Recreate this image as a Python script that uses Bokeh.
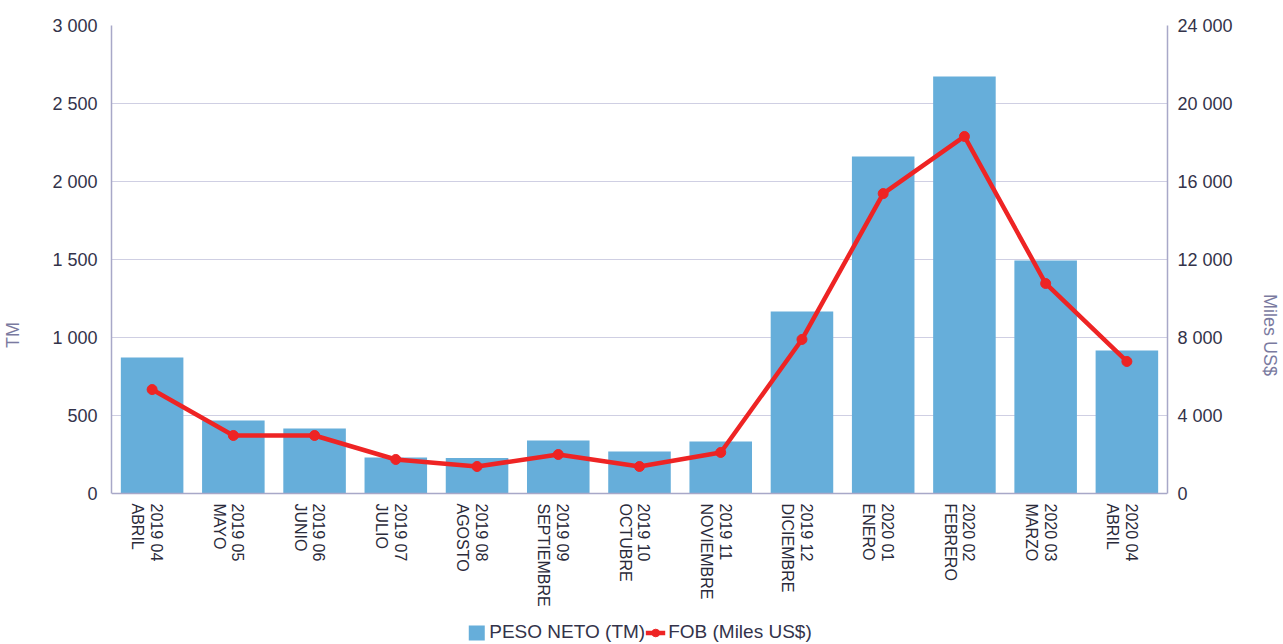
import math
from bokeh.plotting import figure
from bokeh.models import (Range1d, LinearAxis, CustomJSTickFormatter, FixedTicker,
                          Legend, LegendItem, ColumnDataSource, Span)
from bokeh.core.properties import value
from bokeh.embed import file_html
from bokeh.resources import INLINE

categories = ["2019 04\nABRIL", "2019 05\nMAYO", "2019 06\nJUNIO", "2019 07\nJULIO",
              "2019 08\nAGOSTO", "2019 09\nSEPTIEMBRE", "2019 10\nOCTUBRE",
              "2019 11\nNOVIEMBRE", "2019 12\nDICIEMBRE", "2020 01\nENERO",
              "2020 02\nFEBRERO", "2020 03\nMARZO", "2020 04\nABRIL"]
peso_neto = [872, 468, 417, 231, 228, 340, 269, 333, 1167, 2160, 2673, 1494, 917]
fob = [5330, 2975, 2975, 1745, 1385, 2000, 1385, 2105, 7900, 15380, 18310, 10770, 6770]

left_ticks = [0, 500, 1000, 1500, 2000, 2500, 3000]
right_ticks = [0, 4000, 8000, 12000, 16000, 20000, 24000]

FONT = "Liberation Sans"
BAR = "#66AEDA"
RED = "#EE2424"
AXIS = "#A8A8C8"
GRID = "#CFCFE3"
TXT = "#33334A"
LBL = "#7A7AA0"

# layout: the plotting area (0..max) is 468 px tall; the frame is extended
# downward by 151 px to host the category labels and the legend
PLOT_H = 468
EXTRA_H = 151
L_MAX = left_ticks[-1]
R_MAX = right_ticks[-1]
l_lo = -L_MAX * EXTRA_H / PLOT_H
r_lo = -R_MAX * EXTRA_H / PLOT_H

src = ColumnDataSource(dict(cat=categories, peso=peso_neto, fob=fob,
                            base=[0] * len(categories)))

p = figure(x_range=categories, y_range=Range1d(l_lo, L_MAX),
           frame_width=1056, frame_height=PLOT_H + EXTRA_H,
           output_backend="svg", toolbar_location=None,
           min_border_left=103, min_border_right=10, min_border_top=25,
           min_border_bottom=0)
p.extra_y_ranges = {"fob": Range1d(r_lo, R_MAX)}

bars = p.vbar(x="cat", top="peso", width=0.77, source=src, color=BAR, line_color=None)
line = p.line(x="cat", y="fob", source=src, color=RED, line_width=4.5, y_range_name="fob")
pts = p.scatter(x="cat", y="fob", source=src, color=RED, size=10, y_range_name="fob")

# category labels below the baseline, rotated to read top-to-bottom
p.text(x="cat", y="base", text="cat", source=src, angle=-math.pi / 2,
       text_align="left", text_baseline="middle", y_offset=10, x_offset=-5,
       text_font=value(FONT), text_font_size="16px", text_color="#2A2A3A",
       text_line_height=1.1)

fmt = CustomJSTickFormatter(code='return tick.toString().replace(/\\B(?=(\\d{3})+(?!\\d))/g, " ");')

p.yaxis.ticker = FixedTicker(ticks=left_ticks)
p.yaxis.formatter = fmt
p.yaxis.axis_label = "TM"
p.yaxis.bounds = (0, L_MAX)

ra = LinearAxis(y_range_name="fob", ticker=FixedTicker(ticks=right_ticks), formatter=fmt,
                axis_label="Miles US$", bounds=(0, R_MAX))
p.add_layout(ra, "right")

for ax in [p.yaxis[0], ra]:
    ax.axis_line_color = AXIS
    ax.axis_line_width = 1.5
    ax.major_tick_line_color = None
    ax.minor_tick_line_color = None
    ax.major_tick_out = 0
    ax.major_tick_in = 0
    ax.minor_tick_out = 0
    ax.major_label_text_font = FONT
    ax.major_label_text_color = TXT
    ax.major_label_text_font_size = "18px"
    ax.axis_label_text_font = FONT
    ax.axis_label_text_color = LBL
    ax.axis_label_text_font_style = "normal"
    ax.axis_label_text_font_size = "18px"

p.yaxis[0].major_label_standoff = 14
p.yaxis[0].axis_label_standoff = 26
ra.major_label_standoff = 10
ra.axis_label_standoff = 24
p.xaxis.visible = False

p.xgrid.grid_line_color = None
p.ygrid.ticker = FixedTicker(ticks=left_ticks[1:])
p.ygrid.grid_line_color = GRID
p.ygrid.grid_line_width = 1.2
p.add_layout(Span(location=0, dimension="width", line_color=AXIS, line_width=1.5))
p.outline_line_color = None
p.background_fill_color = "white"
p.border_fill_color = "white"

legend = Legend(items=[LegendItem(label="PESO NETO (TM)", renderers=[bars]),
                       LegendItem(label="FOB (Miles US$)", renderers=[line, pts])],
                orientation="horizontal", location="bottom_center",
                label_text_font=FONT, label_text_font_size="19px", label_text_color=TXT,
                border_line_color=None, background_fill_alpha=0, spacing=0,
                glyph_width=20, glyph_height=19, label_standoff=3, padding=0, margin=1,
                label_height=19)
p.add_layout(legend, "center")

open("out.html", "w").write(file_html(p, INLINE))
